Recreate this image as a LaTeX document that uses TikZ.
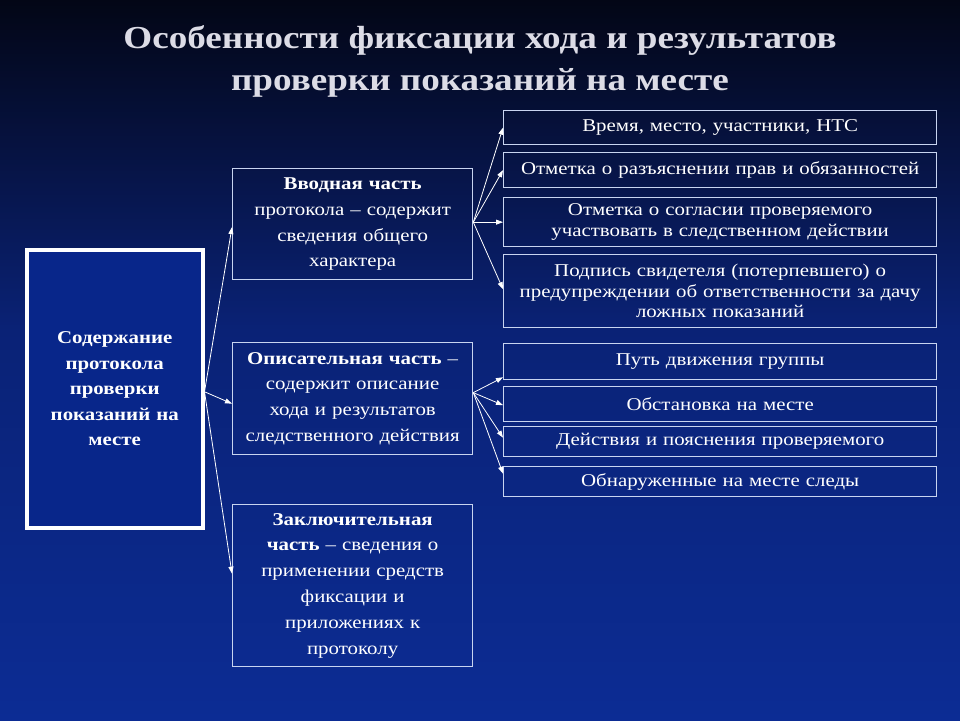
\documentclass[tikz,border=0pt]{standalone}
\usepackage{fontspec}
\setmainfont{Liberation Serif}[FakeStretch=1.16]
\usetikzlibrary{arrows.meta, positioning}
\definecolor{bgtop}{RGB}{3,6,22}
\definecolor{bgmid}{RGB}{10,34,118}
\definecolor{bgbot}{RGB}{12,44,148}
\definecolor{boxline}{RGB}{200,212,240}
\definecolor{titlecol}{RGB}{220,220,230}
\definecolor{mainfill}{RGB}{8,38,138}
\tikzset{
  part/.style={rectangle, draw=boxline, line width=1.3pt,
    anchor=north west, align=center, text=white, inner sep=0pt,
    font=\fontsize{18}{25.8}\selectfont},
  item/.style={rectangle, draw=boxline, line width=1.3pt,
    anchor=north west, align=center, text=white, inner sep=0pt,
    minimum width=433pt, text width=425pt,
    font=\fontsize{18}{20.5}\selectfont},
  arr/.style={-{Triangle[length=7pt,width=5pt]}, line width=0.8pt, color=white},
}

\begin{document}
\begin{tikzpicture}[x=1pt, y=-1pt]

  % background
  \shade[top color=bgtop, bottom color=bgmid] (0,0) rectangle (960,330);
  \shade[top color=bgmid, bottom color=bgbot] (0,330) rectangle (960,720);
  \useasboundingbox (0,0) rectangle (960,720);

  % title
  \node[font=\fontsize{32}{42}\selectfont\bfseries, text=titlecol, align=center]
    (title) at (480,61) {Особенности фиксации хода и результатов\\
    проверки показаний на месте};

  % main box
  \node[rectangle, draw=white, line width=3.5pt, fill=mainfill,
        anchor=north west, minimum width=176pt, minimum height=278pt,
        text width=165pt, align=center, text=white, inner sep=0pt,
        font=\fontsize{18}{25.5}\selectfont\bfseries]
    (main) at (25,248) {Содержание\\ протокола\\ проверки\\ показаний на\\ месте};

  % parts of the protocol
  \node[part, minimum width=240pt, minimum height=111pt, text width=236pt]
    (vvod) at (232,168) {\textbf{Вводная часть}\\ протокола – содержит\\
    сведения общего\\ характера};

  \node[part, minimum width=240pt, minimum height=112pt, text width=236pt]
    (opis) at (232,342) {\textbf{Описательная часть} –\\ содержит описание\\
    хода и результатов\\ следственного действия};

  \node[part, minimum width=240pt, minimum height=162pt, text width=236pt]
    (zakl) at (232,504) {\textbf{Заключительная}\\ \textbf{часть} – сведения о\\
    применении средств\\ фиксации и\\ приложениях к\\ протоколу};

  % right column
  \node[item, minimum height=34pt] (r1) at (503,110) {Время, место, участники, НТС};
  \node[item, minimum height=35pt] (r2) at (503,152) {Отметка о разъяснении прав и обязанностей};
  \node[item, minimum height=49pt] (r3) at (503,197) {Отметка о согласии проверяемого\\
    участвовать в следственном действии};
  \node[item, minimum height=73pt] (r4) at (503,254) {Подпись свидетеля (потерпевшего) о\\
    предупреждении об ответственности за дачу\\ ложных показаний};

  \node[item, minimum height=36pt] (r5) at (503,343) {Путь движения группы};
  \node[item, minimum height=35pt] (r6) at (503,386) {Обстановка на месте};
  \node[item, minimum height=30pt] (r7) at (503,426) {Действия и пояснения проверяемого};
  \node[item, minimum height=30pt] (r8) at (503,466) {Обнаруженные на месте следы};

  % arrows from main box
  \draw[arr] ([yshift=-3pt]main.east) -- ([yshift=-3pt]vvod.west);
  \draw[arr] ([yshift=-3pt]main.east) -- ([yshift=-5pt]opis.west);
  \draw[arr] ([yshift=-3pt]main.east) -- ([yshift=12pt]zakl.west);

  % arrows from the introductory part
  \draw[arr] ([yshift=2pt]vvod.east) -- (r1.west);
  \draw[arr] ([yshift=2pt]vvod.east) -- (r2.west);
  \draw[arr] ([yshift=2pt]vvod.east) -- (r3.west);
  \draw[arr] ([yshift=2pt]vvod.east) -- ([yshift=2pt]r4.west);

  % arrows from the descriptive part
  \draw[arr] ([yshift=6pt]opis.east) -- ([yshift=3pt]r5.south west);
  \draw[arr] ([yshift=6pt]opis.east) -- ([yshift=-1pt]r6.west);
  \draw[arr] ([yshift=6pt]opis.east) -- ([yshift=4pt]r7.west);
  \draw[arr] ([yshift=6pt]opis.east) -- ([yshift=8pt]r8.west);

\end{tikzpicture}
\end{document}
